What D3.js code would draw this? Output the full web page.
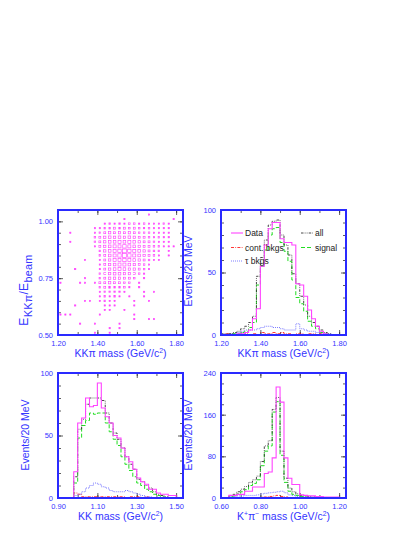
<!DOCTYPE html>
<html>
<head>
<meta charset="utf-8">
<script src="https://cdn.jsdelivr.net/npm/d3@7"></script>
<style>
  body { margin: 0; background: #fff; }
  svg { display: block; }
  text { font-family: "Liberation Sans", Arial, Helvetica, sans-serif; }
</style>
</head>
<body>
<svg id="chart" width="415" height="537"></svg>
<script>
///////////////////////////////////////////////////////////////////////////////
// DATA
///////////////////////////////////////////////////////////////////////////////

// 2D box plot: E_KKpi/E_beam vs KKpi mass. x bins of 0.025 from 1.20,
// y bins of 0.02 from 0.50. Rows listed from the top (y = 1.02-1.04) down.
const scatterX0 = 1.20, scatterDX = 0.025;
const scatterY0 = 0.50, scatterDY = 0.02;
const scatterRows = [
  "..................1......",
  ".............1.........1.",
  ".........12121221211121..",
  ".......1122323232121111..",
  "..1....1234343432221111..",
  ".......2345454543321211..",
  "..1....2345565654332111..",
  ".......13456676543322111.",
  "........2456787654322.1..",
  "........2356787654321.1..",
  ".....1..1346676543211....",
  "........13456654321......",
  "...1....13456544321......",
  "........2345544321.......",
  ".....1..23444332.1.......",
  "1...11.13343322.1........",
  "........2332221.1........",
  "........122221...1.1.....",
  "........12121.1..1.......",
  ".....11.1211...1..1......",
  "...1.....111...1.........",
  ".........11..1...........",
  "111.....1......1.........",
  "...............1..11.....",
  "....1..1....1............",
  "..........1.1............",
  ".......1..1.............."
];

// KKpi mass, 20 MeV bins starting at 1.20
const kkpiStart = 1.20;
const kkpiData   = [0,0,0,0,1,1,2,4,13,21,55,72,85,90,90,77,74,74,72,41,40,31,20,13,7,3,1,0,0,0];
const kkpiAll    = [1,1,1,2,3,5,7,10,15,47,62,76,88,91,92,80,72,64,49,41,31,24,15,10,7,4,2,1,0,0];
const kkpiSignal = [0,0,0,1,1,2,3,6,10,40,55,68,80,85,86,74,67,59,44,30,25,19,11,7,5,2,1,0,0,0];
const kkpiTau    = [0,0,1,1,2,3,4,4,4,5,6,7,7,6,6,5,4,4,4,9,5,4,3,3,2,2,1,1,0,0];
const kkpiCont   = [0,1,0,0,0,0,1,0,1,0,2,1,1,2,1,2,1,1,0,1,1,0,1,1,0,1,0,0,0,0];

// KK mass, 20 MeV bins starting at 0.90
const kkStart = 0.90;
const kkData   = [0,0,0,0,21,60,64,80,73,74,92,72,65,60,50,48,40,33,29,23,16,13,11,7,7,4,3,3,2,2,0,0];
const kkAll    = [0,0,0,0,17,55,63,75,80,80,80,78,68,60,52,47,40,33,27,23,15,13,10,8,5,3,2,1,0,0,0,0];
const kkSignal = [0,0,0,0,12,48,58,62,68,67,68,68,60,53,47,42,33,27,22,17,12,10,7,5,3,2,1,0,0,0,0,0];
const kkTau    = [0,0,0,0,2,3,5,8,10,12,11,9,8,6,5,5,5,6,5,4,3,2,1,1,0,0,0,0,0,0,0,0];
const kkCont   = [0,0,0,0,4,3,1,1,1,1,1,1,1,1,1,1,1,0,1,1,1,0,1,0,0,0,0,0,0,0,0,0];

// K+pi- mass, 20 MeV bins starting at 0.60
const kstStart = 0.60;
const kstData   = [0,0,5,5,7,7,13,13,21,21,21,47,50,77,213,184,77,38,26,26,6,5,4,4,3,3,2,2,2,2,1,0];
const kstAll    = [0,0,5,7,12,17,22,30,35,42,70,100,110,170,193,90,38,19,12,8,5,4,3,2,2,1,1,0,0,0,0,0];
const kstSignal = [0,0,3,4,8,12,16,24,28,35,62,90,100,165,185,82,30,13,7,5,3,2,2,1,1,0,0,0,0,0,0,0];
const kstTau    = [0,0,2,3,4,4,5,5,5,6,8,9,10,11,12,13,10,6,5,3,2,2,1,1,1,1,0,0,0,0,0,0];
const kstCont   = [0,0,0,1,1,0,1,1,1,1,2,2,3,4,5,3,2,1,1,1,0,0,1,0,0,0,0,0,0,0,0,0];

const binWidth = 0.02;

// tick values (minor = unlabelled, major = labelled)
const kkpiMinorX = [1.2,1.3,1.4,1.5,1.6,1.7,1.8];
const kkpiMajorX = [1.2,1.4,1.6,1.8];
const ratioMinorY = [0.5,0.55,0.6,0.65,0.7,0.75,0.8,0.85,0.9,0.95,1.0,1.05];
const ratioMajorY = [0.5,0.75,1.0];
const kkMinorX = [0.9,1.0,1.1,1.2,1.3,1.4,1.5];
const kkMajorX = [0.9,1.1,1.3,1.5];
const kstMinorX = [0.6,0.7,0.8,0.9,1.0,1.1,1.2];
const kstMajorX = [0.6,0.8,1.0,1.2];
const evMinorY = [0,10,20,30,40,50,60,70,80,90,100];
const evMajorY = [0,50,100];
const kstMinorY = [0,20,40,60,80,100,120,140,160,180,200,220,240];
const kstMajorY = [0,80,160,240];

const legendLabels = ["Data", "all", "cont. bkgs", "signal", "\u03c4 bkgs"];

///////////////////////////////////////////////////////////////////////////////
// DRAWING
///////////////////////////////////////////////////////////////////////////////

const svg = d3.select("#chart");
const FRAME = "#2a2aff", TXT = "#3434ff", TICK = "#333";
const MAGENTA = "#ff44ff";
const styles = {
  data:   {stroke: MAGENTA,   dash: null,                     w: 1.1},
  all:    {stroke: "#333333", dash: "2.5,1.2,0.8,1.2,0.8,1.2", w: 0.9},
  signal: {stroke: "#22dd22", dash: "4,2",                    w: 1.0},
  cont:   {stroke: "#ff2020", dash: "3,1.3,0.8,1.3",          w: 0.9},
  tau:    {stroke: "#7070ff", dash: "1,1",                    w: 0.9}
};

function makePanel(id, box, xDom, yDom) {
  const x = d3.scaleLinear().domain(xDom).range([box.x, box.x + box.w]);
  const y = d3.scaleLinear().domain(yDom).range([box.y + box.h, box.y]);
  svg.append("clipPath").attr("id", id)
    .append("rect").attr("x", box.x).attr("y", box.y).attr("width", box.w).attr("height", box.h);
  return {id, x, y, box};
}

function styleAxis(g, withText) {
  g.select(".domain").remove();
  g.selectAll(".tick line").attr("stroke", TICK).attr("stroke-width", 0.8);
  g.attr("font-family", null);
  g.selectAll("text")
    .attr("fill", TXT)
    .attr("font-size", 7.5)
    .style("display", withText ? null : "none");
}

function drawAxes(p, xMinor, xMajor, yMinor, yMajor, xFmt, yFmt) {
  const {x, y, box} = p;
  const bottom = box.y + box.h, right = box.x + box.w;
  const g = svg.append("g");

  [[xMinor, 3, false], [xMajor, 5, true]].forEach(([vals, len, lab]) => {
    g.append("g").attr("transform", `translate(0,${bottom})`)
      .call(d3.axisBottom(x).tickValues(vals).tickSize(-len).tickPadding(6).tickFormat(xFmt))
      .call(a => styleAxis(a, lab));
    g.append("g").attr("transform", `translate(0,${box.y})`)
      .call(d3.axisTop(x).tickValues(vals).tickSize(-len).tickFormat(""))
      .call(a => styleAxis(a, false));
  });
  [[yMinor, 3, false], [yMajor, 5, true]].forEach(([vals, len, lab]) => {
    g.append("g").attr("transform", `translate(${box.x},0)`)
      .call(d3.axisLeft(y).tickValues(vals).tickSize(-len).tickPadding(5).tickFormat(yFmt))
      .call(a => styleAxis(a, lab));
    g.append("g").attr("transform", `translate(${right},0)`)
      .call(d3.axisRight(y).tickValues(vals).tickSize(-len).tickFormat(""))
      .call(a => styleAxis(a, false));
  });
}

function drawFrame(p) {
  svg.append("rect")
    .attr("x", p.box.x).attr("y", p.box.y)
    .attr("width", p.box.w).attr("height", p.box.h)
    .attr("fill", "none").attr("stroke", FRAME).attr("stroke-width", 2);
}

function drawHist(p, start, vals, st) {
  const pts = vals.map((v, i) => [start + i * binWidth, v]);
  pts.push([start + vals.length * binWidth, vals[vals.length - 1]]);
  const line = d3.line()
    .x(d => p.x(d[0]))
    .y(d => p.y(d[1]))
    .curve(d3.curveStepAfter);
  svg.append("path")
    .datum(pts)
    .attr("clip-path", `url(#${p.id})`)
    .attr("fill", "none")
    .attr("stroke", st.stroke)
    .attr("stroke-width", st.w)
    .attr("stroke-dasharray", st.dash)
    .attr("d", line);
}

// parts = [[text, kind], ...] ; kind shifts baseline for sub/superscripts
function richText(sel, parts, size, subScale) {
  parts.forEach(([t, kind]) => {
    const ts = sel.append("tspan").text(t);
    if (kind === "sup") ts.attr("font-size", size * 0.65).attr("dy", -size * 0.4);
    if (kind === "sub") ts.attr("font-size", size * subScale).attr("dy", size * 0.3);
    if (kind === "back-sup") ts.attr("dy", size * 0.4);
    if (kind === "back-sub") ts.attr("dy", -size * 0.3);
  });
}

function xTitle(p, parts) {
  const t = svg.append("text")
    .attr("x", p.box.x + p.box.w / 2)
    .attr("y", p.box.y + p.box.h + 22)
    .attr("text-anchor", "middle")
    .attr("fill", TXT)
    .attr("font-size", 10.5);
  richText(t, parts, 10.5, 0.75);
}

function yTitle(xPos, yPos, parts, size, spacing) {
  const t = svg.append("text")
    .attr("transform", `translate(${xPos},${yPos}) rotate(-90)`)
    .attr("text-anchor", "middle")
    .attr("fill", TXT)
    .attr("letter-spacing", spacing || 0)
    .attr("font-size", size);
  richText(t, parts, size, 0.9);
}

const GEV = [[" mass (GeV/c", null], ["2", "sup"], [")", "back-sup"]];

///////////////////////////////////////////////////////////////////////////////
// 1) E ratio vs KKpi mass (box plot)
///////////////////////////////////////////////////////////////////////////////
const p1 = makePanel("c1", {x: 58, y: 210, w: 125, h: 125}, [1.2, 1.835], [0.5, 1.05]);
drawAxes(p1, kkpiMinorX, kkpiMajorX, ratioMinorY, ratioMajorY, d3.format(".2f"), d3.format(".2f"));

const cells = [];
scatterRows.forEach((row, i) => {
  const r = scatterRows.length - 1 - i;
  row.split("").forEach((ch, c) => {
    if (ch !== ".") cells.push({c, r, n: +ch});
  });
});
svg.append("g").attr("clip-path", "url(#c1)")
  .selectAll("rect").data(cells).enter().append("rect")
  .each(function(d) {
    const s = 1.2 + (d.n - 1) * 0.36;
    const cx = p1.x(scatterX0 + (d.c + 0.5) * scatterDX);
    const cy = p1.y(scatterY0 + (d.r + 0.5) * scatterDY);
    d3.select(this)
      .attr("x", cx - s / 2).attr("y", cy - s / 2)
      .attr("width", s).attr("height", s);
  })
  .attr("fill", d => d.n === 1 ? MAGENTA : "none")
  .attr("stroke", MAGENTA)
  .attr("stroke-width", 0.65);

drawFrame(p1);
xTitle(p1, [["KK\u03c0", null]].concat(GEV));
yTitle(28, 290, [["E", null], ["KK\u03c0", "sub"], ["/E", "back-sub"], ["beam", "sub"]], 12, 0.3);

///////////////////////////////////////////////////////////////////////////////
// 2) KKpi mass histograms
///////////////////////////////////////////////////////////////////////////////
const p2 = makePanel("c2", {x: 221, y: 210, w: 125, h: 125}, [1.2, 1.835], [0, 100]);
drawAxes(p2, kkpiMinorX, kkpiMajorX, evMinorY, evMajorY, d3.format(".2f"), d3.format("d"));
drawHist(p2, kkpiStart, kkpiCont, styles.cont);
drawHist(p2, kkpiStart, kkpiTau, styles.tau);
drawHist(p2, kkpiStart, kkpiSignal, styles.signal);
drawHist(p2, kkpiStart, kkpiAll, styles.all);
drawHist(p2, kkpiStart, kkpiData, styles.data);
drawFrame(p2);
xTitle(p2, [["KK\u03c0", null]].concat(GEV));
yTitle(192, 271, [["Events/20 MeV", null]], 10.5);

// legend
const legendItems = [
  {label: legendLabels[0], st: styles.data,   x: 231, y: 233},
  {label: legendLabels[1], st: styles.all,    x: 301, y: 233},
  {label: legendLabels[2], st: styles.cont,   x: 231, y: 247.5},
  {label: legendLabels[3], st: styles.signal, x: 301, y: 247.5},
  {label: legendLabels[4], st: styles.tau,    x: 231, y: 261}
];
legendItems.forEach(d => {
  svg.append("line")
    .attr("x1", d.x).attr("x2", d.x + 12)
    .attr("y1", d.y).attr("y2", d.y)
    .attr("stroke", d.st.stroke).attr("stroke-width", d.st.w)
    .attr("stroke-dasharray", d.st.dash);
  svg.append("text")
    .attr("x", d.x + 14).attr("y", d.y + 3)
    .attr("font-size", 8.5)
    .attr("fill", "#222")
    .text(d.label);
});

///////////////////////////////////////////////////////////////////////////////
// 3) KK mass histograms
///////////////////////////////////////////////////////////////////////////////
const p3 = makePanel("c3", {x: 58, y: 373, w: 125, h: 125}, [0.9, 1.535], [0, 100]);
drawAxes(p3, kkMinorX, kkMajorX, evMinorY, evMajorY, d3.format(".2f"), d3.format("d"));
drawHist(p3, kkStart, kkCont, styles.cont);
drawHist(p3, kkStart, kkTau, styles.tau);
drawHist(p3, kkStart, kkSignal, styles.signal);
drawHist(p3, kkStart, kkAll, styles.all);
drawHist(p3, kkStart, kkData, styles.data);
drawFrame(p3);
xTitle(p3, [["KK", null]].concat(GEV));
yTitle(29, 435, [["Events/20 MeV", null]], 10.5);

///////////////////////////////////////////////////////////////////////////////
// 4) K+pi- mass histograms
///////////////////////////////////////////////////////////////////////////////
const p4 = makePanel("c4", {x: 221, y: 373, w: 125, h: 125}, [0.6, 1.235], [0, 240]);
drawAxes(p4, kstMinorX, kstMajorX, kstMinorY, kstMajorY, d3.format(".2f"), d3.format("d"));
drawHist(p4, kstStart, kstCont, styles.cont);
drawHist(p4, kstStart, kstTau, styles.tau);
drawHist(p4, kstStart, kstSignal, styles.signal);
drawHist(p4, kstStart, kstAll, styles.all);
drawHist(p4, kstStart, kstData, styles.data);
drawFrame(p4);
xTitle(p4, [["K", null], ["+", "sup"], ["\u03c0", "back-sup"], ["\u2212", "sup"], [" mass (GeV/c", "back-sup"], ["2", "sup"], [")", "back-sup"]]);
yTitle(192, 435, [["Events/20 MeV", null]], 10.5);
</script>
</body>
</html>
